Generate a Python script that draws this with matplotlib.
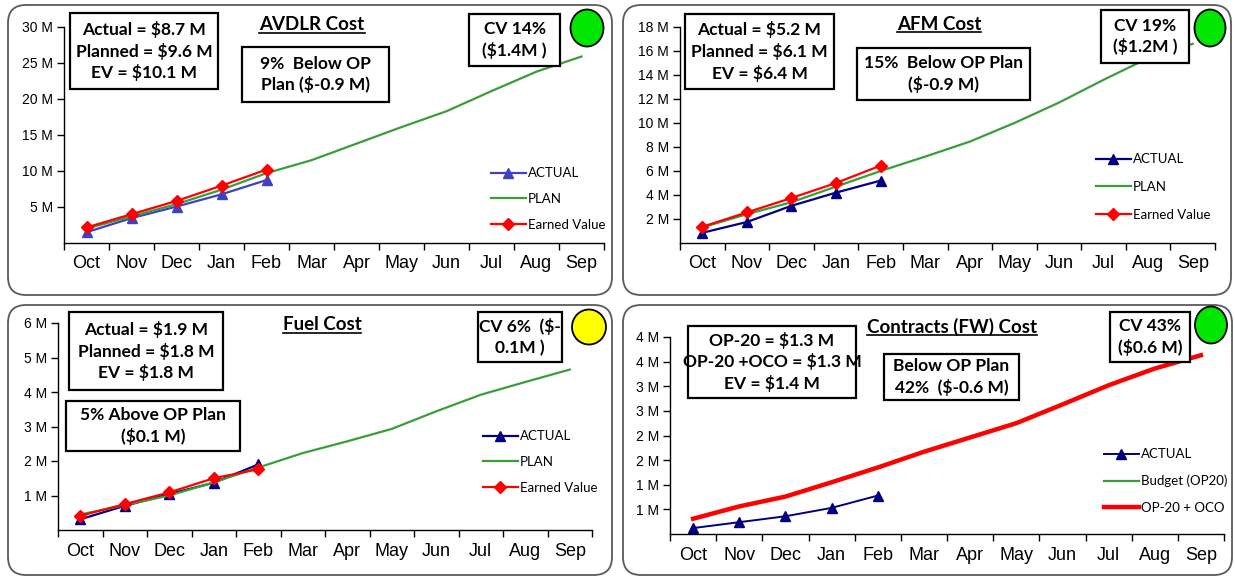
import matplotlib
matplotlib.use('Agg')
import matplotlib.pyplot as plt
from matplotlib.patches import FancyBboxPatch, Rectangle, Ellipse
from matplotlib.lines import Line2D
from matplotlib.transforms import IdentityTransform

W, H = 1235, 577

months = ['Oct', 'Nov', 'Dec', 'Jan', 'Feb', 'Mar', 'Apr', 'May', 'Jun', 'Jul', 'Aug', 'Sep']

# AVDLR
avdlr_actual = [1.5, 3.45, 5.06, 6.76, 8.74]
avdlr_ev = [2.16, 4.0, 5.84, 7.96, 10.2]
avdlr_plan = [2.0, 3.7, 5.4, 7.4, 9.7, 11.5, 13.8, 16.1, 18.3, 21.1, 23.8, 25.9]
avdlr_yticks = [5, 10, 15, 20, 25, 30]
avdlr_ylabels = ['5 M', '10 M', '15 M', '20 M', '25 M', '30 M']

# AFM
afm_actual = [0.85, 1.75, 3.1, 4.2, 5.2]
afm_ev = [1.35, 2.55, 3.75, 5.0, 6.45]
afm_plan = [1.3, 2.4, 3.4, 4.7, 6.0, 7.2, 8.45, 10.0, 11.7, 13.6, 15.4, 16.6]
afm_yticks = [2, 4, 6, 8, 10, 12, 14, 16, 18]
afm_ylabels = ['2 M', '4 M', '6 M', '8 M', '10 M', '12 M', '14 M', '16 M', '18 M']

# Fuel
fuel_actual = [0.31, 0.70, 1.04, 1.37, 1.90]
fuel_ev = [0.41, 0.75, 1.09, 1.50, 1.76]
fuel_plan = [0.45, 0.72, 1.0, 1.38, 1.81, 2.23, 2.57, 2.93, 3.44, 3.92, 4.29, 4.65]
fuel_yticks = [1, 2, 3, 4, 5, 6]
fuel_ylabels = ['1 M', '2 M', '3 M', '4 M', '5 M', '6 M']

# Contracts (FW)
con_actual = [0.12, 0.24, 0.36, 0.53, 0.78]
con_budget = [0.31, 0.56, 0.76, 1.05, 1.35, 1.67, 1.96, 2.25, 2.63, 3.02, 3.36, 3.63]
con_oco = [0.31, 0.56, 0.76, 1.05, 1.35, 1.67, 1.96, 2.25, 2.63, 3.02, 3.36, 3.63]
con_yticks = [0.5, 1.0, 1.5, 2.0, 2.5, 3.0, 3.5, 4.0]
con_ylabels = ['1 M', '1 M', '2 M', '2 M', '3 M', '3 M', '4 M', '4 M']

BOXFONT = ['Lato', 'DejaVu Sans']
TICKFONT = ['Liberation Sans', 'DejaVu Sans']
GREEN = '#3a9d3a'
NAVY = '#000080'

fig = plt.figure(figsize=(W / 100, H / 100), dpi=100)
fig.patch.set_facecolor('white')


def pxrect(x0, y0, x1, y1):
    return [x0 / W, 1 - y1 / H, (x1 - x0) / W, (y1 - y0) / H]


def frame(x0, y0, x1, y1):
    p = FancyBboxPatch((x0, H - y1), x1 - x0, y1 - y0,
                       boxstyle='round,pad=0,rounding_size=18',
                       transform=IdentityTransform(), fc='white', ec='#5a5a5a', lw=1.3,
                       zorder=-10)
    fig.add_artist(p)


def textbox(x0, y0, x1, y1, txt, size=12.5):
    r = Rectangle((x0, H - y1), x1 - x0, y1 - y0, transform=IdentityTransform(),
                  fc='white', ec='black', lw=1.6, zorder=5)
    fig.add_artist(r)
    fig.text((x0 + x1) / 2 / W, 1 - (y0 + y1) / 2 / H, txt, ha='center', va='center',
             fontsize=size, fontweight='bold', family=BOXFONT, linespacing=1.35, zorder=6)


def light(cx, cy, w, h, color):
    e = Ellipse((cx, H - cy), w, h, transform=IdentityTransform(),
                fc=color, ec='black', lw=1.3, zorder=6)
    fig.add_artist(e)


titles = []


def title(cx, cy, txt):
    t = fig.text(cx / W, 1 - cy / H, txt, ha='center', va='center', fontsize=13.5,
                 fontweight='bold', family=BOXFONT, zorder=6)
    titles.append(t)


def setup_axes(rect, ymax, yticks, ylabels):
    ax = fig.add_axes(pxrect(*rect))
    ax.set_xlim(0, 12)
    ax.set_ylim(0, ymax)
    ax.patch.set_alpha(0)
    for s in ['top', 'right']:
        ax.spines[s].set_visible(False)
    for s in ['left', 'bottom']:
        ax.spines[s].set_linewidth(1.0)
    ax.set_xticks([i + 0.5 for i in range(12)])
    ax.set_xticklabels(months, fontsize=13, family=TICKFONT)
    ax.set_xticks(range(13), minor=True)
    ax.tick_params(axis='x', which='major', length=0, pad=9)
    ax.tick_params(axis='x', which='minor', length=5, direction='out', width=1)
    ax.set_yticks(yticks)
    ax.set_yticklabels(ylabels, fontsize=10, family=TICKFONT)
    ax.tick_params(axis='y', length=5, direction='out', width=1, pad=3)
    return ax


x5 = [i + 0.5 for i in range(5)]
x12 = [i + 0.5 for i in range(12)]

# frames
frame(8, 5, 612, 295)
frame(623, 5, 1231, 295)
frame(8, 305, 612, 575)
frame(623, 305, 1232, 575)

# --- AVDLR
ax = setup_axes((64, 27, 604, 243), 30, avdlr_yticks, avdlr_ylabels)
ax.plot(x5, avdlr_actual, color='#4040c0', lw=1.6, marker='^', ms=7, label='ACTUAL')
ax.plot(x12, avdlr_plan, color=GREEN, lw=1.6, label='PLAN')
ax.plot(x5, avdlr_ev, color='red', lw=1.6, marker='D', ms=6, label='Earned Value')
ax.legend(loc='center left', bbox_to_anchor=(484 / W, 1 - 199 / H), bbox_transform=fig.transFigure,
          frameon=False, handlelength=2.7, handletextpad=0.15, labelspacing=1.05,
          borderpad=0, prop={'family': BOXFONT, 'size': 9.5})
textbox(70, 13, 218, 89, 'Actual = $8.7 M\nPlanned = $9.6 M\nEV = $10.1 M')
textbox(242, 47, 389, 102, '9%  Below OP\nPlan ($-0.9 M)')
textbox(469, 14, 560, 66, 'CV 14%\n($1.4M )')
light(587, 28, 33, 37, '#00e600')
title(312, 25, 'AVDLR Cost')

# --- AFM
ax = setup_axes((680, 27, 1215, 243), 18, afm_yticks, afm_ylabels)
ax.plot(x5, afm_actual, color=NAVY, lw=1.6, marker='^', ms=7, label='ACTUAL')
ax.plot(x12, afm_plan, color=GREEN, lw=1.6, label='PLAN')
ax.plot(x5, afm_ev, color='red', lw=1.6, marker='D', ms=6, label='Earned Value')
ax.legend(loc='center left', bbox_to_anchor=(1089 / W, 1 - 187 / H), bbox_transform=fig.transFigure,
          frameon=False, handlelength=2.7, handletextpad=0.15, labelspacing=1.2,
          borderpad=0, prop={'family': BOXFONT, 'size': 9.5})
textbox(685, 14, 834, 89, 'Actual = $5.2 M\nPlanned = $6.1 M\nEV = $6.4 M')
textbox(857, 48, 1030, 100, '15%  Below OP Plan\n($-0.9 M)')
textbox(1101, 10, 1189, 63, 'CV 19%\n($1.2M )')
light(1210, 28, 31, 37, '#00e600')
title(939, 24, 'AFM Cost')

# --- Fuel
ax = setup_axes((58, 323, 592, 530), 6, fuel_yticks, fuel_ylabels)
ax.plot(x5, fuel_actual, color=NAVY, lw=1.6, marker='^', ms=7, label='ACTUAL')
ax.plot(x12, fuel_plan, color=GREEN, lw=1.6, label='PLAN')
ax.plot(x5, fuel_ev, color='red', lw=1.6, marker='D', ms=6, label='Earned Value')
ax.legend(loc='center left', bbox_to_anchor=(476 / W, 1 - 462 / H), bbox_transform=fig.transFigure,
          frameon=False, handlelength=2.7, handletextpad=0.15, labelspacing=1.05,
          borderpad=0, prop={'family': BOXFONT, 'size': 9.5})
textbox(69, 312, 223, 390, 'Actual = $1.9 M\nPlanned = $1.8 M\nEV = $1.8 M')
textbox(66, 401, 240, 451, '5% Above OP Plan\n($0.1 M)')
textbox(478, 312, 562, 362, 'CV 6%  ($-\n0.1M )')
light(589, 327, 34, 35, '#ffff00')
title(322, 325, 'Fuel Cost')

# --- Contracts (FW)
ax = setup_axes((670, 337, 1224, 534), 4, con_yticks, con_ylabels)
ax.plot(x5, con_actual, color=NAVY, lw=1.4, marker='^', ms=7, label='ACTUAL')
ax.plot(x12, con_budget, color=GREEN, lw=1.6, label='Budget (OP20)')
ax.plot(x12, con_oco, color='red', lw=3.2, label='OP-20 + OCO')
ax.legend(loc='center left', bbox_to_anchor=(1097 / W, 1 - 481 / H), bbox_transform=fig.transFigure,
          frameon=False, handlelength=2.7, handletextpad=0.15, labelspacing=1.1,
          borderpad=0, prop={'family': BOXFONT, 'size': 9.5})
textbox(688, 326, 856, 398, 'OP-20 = $1.3 M\nOP-20 +OCO = $1.3 M\nEV = $1.4 M')
textbox(884, 354, 1019, 400, 'Below OP Plan\n42%  ($-0.6 M)')
textbox(1110, 312, 1190, 362, 'CV 43%\n($0.6 M)')
light(1211, 325, 32, 37, '#00e600')
title(952, 327, 'Contracts (FW) Cost')

# underline the titles
fig.canvas.draw()
for t in titles:
    bb = t.get_window_extent()
    fig.add_artist(Line2D([bb.x0, bb.x1], [bb.y0 + 1, bb.y0 + 1], transform=IdentityTransform(),
                          color='black', lw=1.2, zorder=6))

fig.savefig('out.png', dpi=100)
